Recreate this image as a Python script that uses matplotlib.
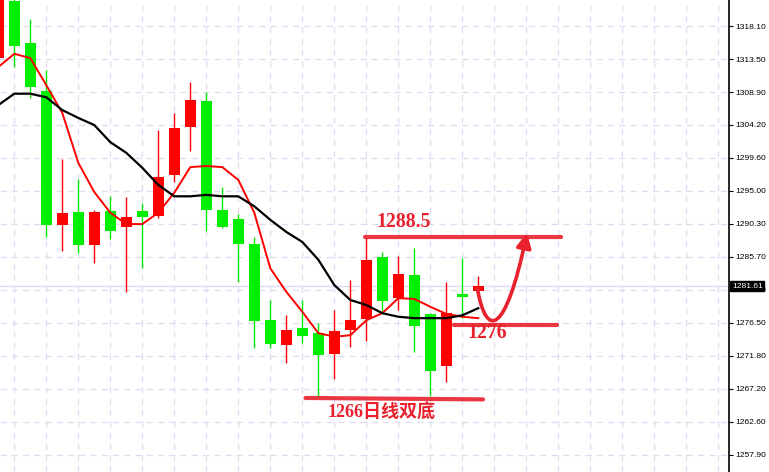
import matplotlib
matplotlib.use('Agg')
import matplotlib.pyplot as plt
import numpy as np
from matplotlib.path import Path
from matplotlib.patches import FancyArrowPatch

# daily candles, oldest first (first one is cut by the left edge)
opens = [1313.6, 1321.6, 1315.7, 1309.0, 1290.2, 1292.0, 1287.4, 1292.1, 1289.9, 1292.1,
         1291.4, 1297.2, 1303.9, 1307.6, 1292.3, 1291.0, 1287.5, 1276.8, 1273.3, 1275.7,
         1275.0, 1272.1, 1275.4, 1277.0, 1285.7, 1279.9, 1283.2, 1277.7, 1270.4, 1280.5,
         1280.9]
highs = [1323.0, 1322.0, 1319.1, 1311.9, 1299.4, 1296.6, 1292.3, 1294.2, 1294.1, 1293.3,
         1303.5, 1305.9, 1310.2, 1308.8, 1295.5, 1291.7, 1288.5, 1279.65, 1277.5, 1279.65,
         1276.4, 1278.25, 1282.5, 1288.5, 1286.4, 1285.8, 1286.95, 1277.8, 1282.2, 1285.5,
         1283.0]
lows = [1313.6, 1312.35, 1308.0, 1288.5, 1286.5, 1286.2, 1284.8, 1288.2, 1280.8, 1284.1,
        1291.2, 1296.2, 1300.6, 1289.3, 1289.8, 1282.2, 1272.9, 1272.9, 1270.8, 1273.6,
        1266.2, 1268.6, 1273.05, 1273.9, 1277.8, 1278.25, 1272.35, 1266.2, 1268.1, 1277.1,
        1280.9]
closes = [1322.5, 1315.3, 1309.5, 1290.2, 1291.9, 1287.4, 1292.0, 1289.3, 1291.3, 1291.3,
          1296.9, 1303.8, 1307.7, 1292.3, 1289.9, 1287.5, 1276.7, 1273.5, 1275.4, 1274.6,
          1271.9, 1275.3, 1276.8, 1285.3, 1279.5, 1283.3, 1276.0, 1269.7, 1277.8, 1280.1,
          1281.6]
ma_fast = [1312.35, 1314.2, 1313.6, 1309.8, 1305.9, 1298.9, 1294.8, 1291.9, 1290.3, 1290.3,
           1291.9, 1294.7, 1298.3, 1298.45, 1298.3, 1296.5, 1291.9, 1284.1, 1280.8, 1278.0,
           1275.0, 1274.5, 1274.7, 1276.8, 1277.8, 1279.9, 1279.8, 1278.7, 1277.7, 1277.3,
           1277.1]
ma_slow = [1307.0, 1308.6, 1308.6, 1308.1, 1306.3, 1305.2, 1304.2, 1301.8, 1300.3, 1298.2,
           1295.8, 1294.2, 1294.2, 1294.4, 1294.2, 1294.2, 1292.8, 1290.9, 1289.2, 1287.8,
           1285.3, 1281.75, 1279.65, 1278.95, 1277.8, 1277.3, 1277.1, 1277.1, 1277.1, 1277.5,
           1278.5]
last_price = 1281.61

tick_labels = ['1318.10', '1313.50', '1308.90', '1304.20', '1299.60', '1295.00', '1290.30',
               '1285.70', '1281.10', '1276.50', '1271.80', '1267.20', '1262.60', '1257.90']

resistance, support, double_bottom = 1288.5, 1276.0, 1266.0

x = np.arange(len(opens)) - 1
o, h, l, c = map(np.array, (opens, highs, lows, closes))
up = c >= o
cols = np.where(up, '#ff0000', '#00ee00')

fig = plt.figure(figsize=(7.69, 4.72), dpi=100)
ax = fig.add_axes([0, 0, 729 / 769, 1])
ax.set_xlim(-0.894, 44.67)
ax.set_ylim(1255.51, 1321.75)

ticks = np.linspace(1318.1, 1257.9, len(tick_labels))
grid_kw = dict(color='#dedcf2', lw=0.9, ls=(0, (5, 4)), zorder=0)
for t in ticks:
    ax.axhline(t, **grid_kw)
for gx in range(0, 46, 2):
    ax.axvline(gx, **grid_kw)
ax.axhline(last_price, color='#dedcf2', lw=1, zorder=0)

# candles
ax.vlines(x, l, h, colors=cols, lw=1, zorder=2)
body = np.maximum(np.abs(c - o), 0.35)
ax.bar(x, body, bottom=np.minimum(o, c), width=0.69, color=cols, zorder=3)

ax.plot(x, ma_fast, color='#ff0000', lw=1.4, zorder=4)
ax.plot(x, ma_slow, color='#000000', lw=1.6, zorder=4)

# hand drawn annotations
red = '#e8212c'
ax.plot([21.9, 34.2], [resistance, resistance], color=red, lw=3, alpha=0.9, solid_capstyle='round', zorder=5)
ax.plot([27.5, 33.9], [support + 0.15, support + 0.15], color=red, lw=3, alpha=0.9, solid_capstyle='round', zorder=5)
ax.plot([18.2, 29.3], [double_bottom - 0.1, double_bottom - 0.3], color=red, lw=3, alpha=0.9, solid_capstyle='round', zorder=5)

serif = dict(color=red, fontsize=14.2, fontweight='bold', family=['Liberation Serif', 'Noto Sans CJK SC'])
ax.text(22.6, 1290.6, '1288.5', ha='left', va='center', **serif)
ax.text(28.3, 1275.0, '1276', ha='left', va='center', **serif)
ax.text(19.6, 1263.9, '1266日线双底', ha='left', va='center',
        color=red, fontsize=13, fontweight='bold', family=['Liberation Serif', 'Noto Sans CJK SC'])

verts = [(28.95, 1281.2), (29.5, 1274.2), (30.7, 1274.6), (32.05, 1289.1)]
path = Path(verts, [Path.MOVETO, Path.CURVE4, Path.CURVE4, Path.CURVE4])
ax.add_patch(FancyArrowPatch(path=path, arrowstyle='-|>', mutation_scale=22,
                             color=red, lw=2.6, zorder=6))

# right price axis
for s in ('left', 'top', 'bottom'):
    ax.spines[s].set_visible(False)
ax.spines['right'].set_color('black')
ax.spines['right'].set_linewidth(1.2)
ax.set_xticks([])
ax.yaxis.tick_right()
ax.set_yticks(ticks)
ax.set_yticklabels(tick_labels)
ax.tick_params(axis='y', length=3, width=0.8, pad=1.5, labelsize=6.1, labelcolor='black')
for lab in ax.get_yticklabels():
    lab.set_family('Liberation Sans')
ax.text(1.004, (last_price - 1255.51) / (1321.75 - 1255.51), f'{last_price:.2f}',
        transform=ax.transAxes, ha='left', va='center', color='white', fontsize=6.1,
        family='Liberation Sans', zorder=10, clip_on=False,
        bbox=dict(boxstyle='square,pad=0.2', fc='black', ec='black'))

fig.savefig('out.png', dpi=100)
